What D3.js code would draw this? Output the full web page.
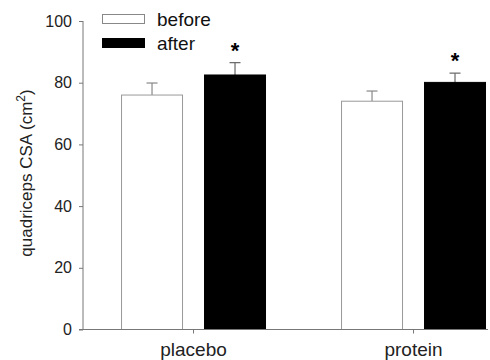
<!DOCTYPE html>
<html><head><meta charset="utf-8">
<script src="https://cdn.jsdelivr.net/npm/d3@7/dist/d3.min.js"></script>
<style>body{margin:0;background:#fff}svg{display:block}text{font-family:Arial,"Liberation Sans",sans-serif}</style>
</head><body><svg id="c" width="490" height="360"></svg>
<script>
const categories = ["placebo", "protein"];
const seriesNames = ["before", "after"];
const beforeValues = [76.0, 74.0];
const beforeErrors = [3.9, 3.3];
const afterValues = [82.5, 80.1];
const afterErrors = [4.0, 3.0];
const significant = [true, true];
const yTicks = [0, 20, 40, 60, 80, 100];

const svg = d3.select("#c");
const m = {left: 83, right: 0, top: 21, bottom: 30.5};
const W = 490, H = 360;
const y = d3.scaleLinear().domain([0, 100]).range([H - m.bottom, m.top]);
const x0 = d3.scaleBand().domain(categories).range([m.left, W - m.right])
  .paddingInner(0.341).paddingOuter(0.0955).align(0.905);
const x1 = d3.scaleBand().domain(seriesNames).range([0, x0.bandwidth()]).paddingInner(0.253).paddingOuter(0);

const data = categories.map((c, i) => ({cat: c, vals: [
  {s: "before", v: beforeValues[i], e: beforeErrors[i]},
  {s: "after", v: afterValues[i], e: afterErrors[i]}]}));
const fill = {before: "#fff", after: "#000"};
const stroke = {before: "#999", after: "#000"};

const g = svg.append("g");
const grp = g.selectAll("g.grp").data(data).join("g").attr("transform", d => `translate(${x0(d.cat)},0)`);
grp.selectAll("g.err").data(d => d.vals).join("g").each(function(d) {
  const cx = x1(d.s) + x1.bandwidth() / 2;
  const s = d3.select(this);
  const col = d.s === "before" ? "#888" : "#666";
  s.append("line").attr("x1", cx).attr("x2", cx).attr("y1", y(d.v)).attr("y2", y(d.v + d.e)).attr("stroke", col).attr("stroke-width", 1.2);
  s.append("line").attr("x1", cx - 5.5).attr("x2", cx + 5.5).attr("y1", y(d.v + d.e)).attr("y2", y(d.v + d.e)).attr("stroke", col).attr("stroke-width", 1.2);
});
grp.selectAll("rect").data(d => d.vals).join("rect")
  .attr("x", d => x1(d.s) + 0.5).attr("width", x1.bandwidth() - 1)
  .attr("y", d => y(d.v)).attr("height", d => y(0) - y(d.v))
  .attr("fill", d => fill[d.s]).attr("stroke", d => stroke[d.s]).attr("stroke-width", 1);
grp.filter((d, i) => significant[i]).append("text")
  .attr("x", x1("after") + x1.bandwidth() / 2)
  .attr("y", (d) => y(d.vals[1].v + d.vals[1].e) - 5)
  .attr("text-anchor", "middle").attr("font-size", 22).attr("font-weight", "bold").text("*");

const ya = svg.append("g").attr("transform", `translate(${m.left},0)`)
  .call(d3.axisLeft(y).tickValues(yTicks).tickSize(4).tickPadding(7));
ya.selectAll("text").attr("font-size", 16).attr("fill", "#222").style("font-family", "Arial, 'Liberation Sans', sans-serif");
ya.selectAll("line,path").attr("stroke", "#777");
ya.select("path").attr("d", `M0,${y(0)}V${y(100)}`);
const xa = svg.append("g").attr("transform", `translate(0,${y(0)})`)
  .call(d3.axisBottom(x0).tickSize(4).tickPadding(5));
xa.selectAll("text").attr("font-size", 19).attr("fill", "#222").attr("dy", "0.9em").style("font-family", "Arial, 'Liberation Sans', sans-serif");
xa.selectAll("line,path").attr("stroke", "#777");
xa.select("path").attr("d", `M${m.left - 4},0H${W - 2}`);

svg.append("text").attr("transform", `translate(32,173) rotate(-90)`)
  .attr("text-anchor", "middle").attr("font-size", 17).attr("fill", "#222")
  .html('quadriceps CSA (cm<tspan dy="-7" font-size="12">2</tspan><tspan dy="7">)</tspan>');

const leg = svg.append("g");
seriesNames.forEach((s, i) => {
  const yy = 14 + i * 24;
  leg.append("rect").attr("x", 102.5).attr("y", yy + 0.5).attr("width", 42).attr("height", 9)
    .attr("fill", fill[s]).attr("stroke", s === "before" ? "#888" : "#000");
  leg.append("text").attr("x", 157).attr("y", yy + 12).attr("font-size", 19).attr("fill", "#111").text(s);
});
</script></body></html>
